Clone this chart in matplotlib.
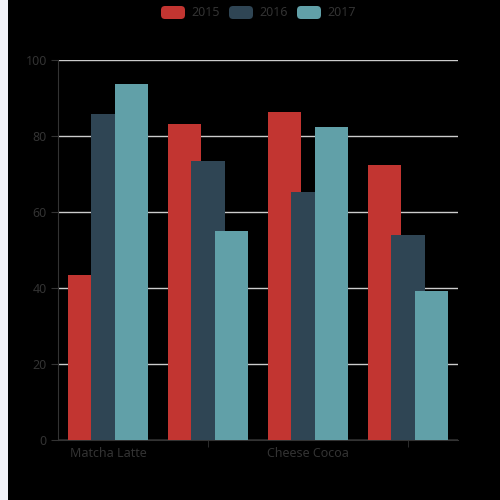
import matplotlib.pyplot as plt
from matplotlib.patches import Rectangle, FancyBboxPatch
import numpy as np

categories = ['Matcha Latte', 'Milk Tea', 'Cheese Cocoa', 'Walnut Brownie']
years = ['2015', '2016', '2017']
v2015 = [43.3, 83.1, 86.4, 72.4]
v2016 = [85.8, 73.4, 65.2, 53.9]
v2017 = [93.7, 55.1, 82.5, 39.1]
colors = ['#c23531', '#2f4554', '#61a0a8']

plt.rcParams['font.family'] = ['Noto Sans', 'DejaVu Sans']
txt = '#333333'
fig = plt.figure(figsize=(5, 5), dpi=100, facecolor='#f2f3f8')
# black canvas with a thin light strip on the left
fig.patches.append(Rectangle((8 / 500, 0), 1 - 8 / 500, 1, transform=fig.transFigure,
                             facecolor='black', edgecolor='none', zorder=-10))

ax = fig.add_axes([58 / 500, 60 / 500, 400 / 500, 380 / 500])
ax.set_facecolor('black')

x = np.arange(len(categories))
w = 0.333
step = 0.233
for i, vals in enumerate([v2015, v2016, v2017]):
    ax.bar(x + (i - 1) * step, vals, width=w, color=colors[i], zorder=3 + i)

ax.set_xlim(-0.5, 3.5)
ax.set_ylim(0, 100)
ax.set_yticks([0, 20, 40, 60, 80, 100])
ax.yaxis.grid(True, color='#cccccc', linewidth=1, zorder=1)
ax.set_axisbelow(True)

for s in ['top', 'right']:
    ax.spines[s].set_visible(False)
ax.spines['left'].set_color(txt)
ax.spines['bottom'].set_color(txt)
ax.tick_params(axis='y', colors=txt, labelcolor=txt, length=5, labelsize=9, pad=3)

# labels every other category, ticks only at the skipped ones
ax.set_xticks([0, 2])
ax.set_xticklabels([categories[0], categories[2]])
ax.tick_params(axis='x', length=0, labelcolor=txt, labelsize=9, pad=5)
ax.set_xticks([1, 3], minor=True)
ax.tick_params(axis='x', which='minor', length=5, color=txt)

# legend
lx = [161, 229, 297]
for i, yr in enumerate(years):
    fig.patches.append(FancyBboxPatch((lx[i] / 500, (500 - 19) / 500), 24 / 500, 13 / 500,
                                      boxstyle='round,pad=0,rounding_size=0.008',
                                      transform=fig.transFigure, facecolor=colors[i],
                                      edgecolor='none', zorder=2))
    fig.text((lx[i] + 30) / 500, (500 - 12) / 500, yr, color=txt, fontsize=9,
             va='center', ha='left')

fig.savefig('out.png', dpi=100, facecolor=fig.get_facecolor())
